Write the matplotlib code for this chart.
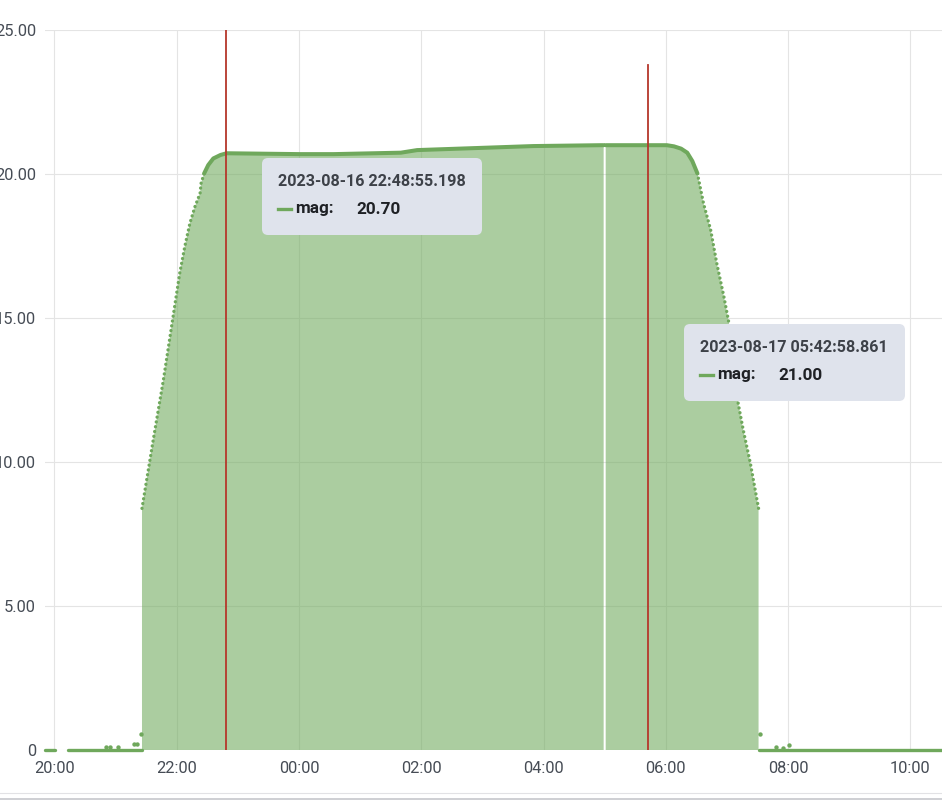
import matplotlib
matplotlib.use("Agg")
import matplotlib.pyplot as plt
import matplotlib.dates as mdates
from matplotlib.patches import FancyBboxPatch, Rectangle
from matplotlib.lines import Line2D
from matplotlib.transforms import IdentityTransform
from matplotlib.ticker import FuncFormatter
import numpy as np
import pandas as pd

plt.rcParams['font.family'] = ['Roboto', 'DejaVu Sans']

D1 = "2023-08-16 "
D2 = "2023-08-17 "

# --- data -----------------------------------------------------------------
# baseline runs at 0 before and after the night
zero_start = [D1 + "19:51", D1 + "20:13", D2 + "07:31"]
zero_end = [D1 + "20:01", D1 + "21:26", D2 + "10:35"]

# isolated small samples near the baseline
blip_t = [D1 + "20:51", D1 + "20:55", D1 + "21:02", D1 + "21:18", D1 + "21:21",
          D1 + "21:25", D2 + "07:32", D2 + "07:48", D2 + "07:55", D2 + "08:01"]
blip_mag = [0.12, 0.12, 0.12, 0.20, 0.20, 0.55, 0.55, 0.09, 0.08, 0.17]

# evening ramp (sparse samples, drawn as dots)
rise_t = [D1 + t for t in ["21:26", "21:37", "21:47", "21:55", "22:03", "22:08",
                           "22:13", "22:18", "22:23", "22:24", "22:27"]]
rise_mag = [8.39, 10.76, 12.85, 14.70, 16.55, 17.48, 18.29, 18.87, 19.33, 19.68, 20.02]

# night plateau (dense samples, one missing sample around 05:00)
top_t = [D1 + t for t in ["22:27", "22:31", "22:36", "22:43", "22:49"]] + \
        [D2 + t for t in ["00:01", "00:34", "01:40", "01:56", "02:45", "03:50",
                          "04:56", "04:59", "05:00", "05:01", "06:01", "06:08",
                          "06:15", "06:21", "06:26", "06:31"]]
top_mag = [20.02, 20.31, 20.54, 20.66, 20.72,
           20.69, 20.69, 20.74, 20.83, 20.89, 20.97,
           21.00, 21.00, np.nan, 21.00, 21.00, 20.96,
           20.88, 20.74, 20.45, 20.02]

# morning ramp
fall_t = [D2 + t for t in ["06:31", "06:37", "06:44", "06:50", "06:57", "07:02",
                           "07:11", "07:16", "07:23", "07:31"]]
fall_mag = [20.02, 18.98, 18.06, 16.90, 15.74, 14.81, 12.04, 11.11, 9.95, 8.39]

# annotations (tooltips)
ann_t = ["2023-08-16 22:48:55.198", "2023-08-17 05:42:58.861"]
ann_mag = [20.70, 21.00]

xmin, xmax = D1 + "19:50:50", D2 + "10:31"

# --- figure ---------------------------------------------------------------
W, H = 942, 800
fig = plt.figure(figsize=(W / 100, H / 100), dpi=100)
ax = fig.add_axes([45 / W, 50 / H, (W - 45) / W, 720 / H])

green = '#6fa85c'
to_dt = pd.to_datetime

# filled area under the night curve
fill_t = to_dt(rise_t + top_t + fall_t)
fill_v = np.array(rise_mag + top_mag + fall_mag, dtype=float)
ax.fill_between(fill_t, fill_v, 0, color='#6faa5c', alpha=0.58, lw=0, zorder=2)

dots = dict(color=green, lw=2.4, ls=(0, (0.01, 1.45)), dash_capstyle='round',
            clip_on=False, zorder=3)
ax.plot(to_dt(rise_t), rise_mag, **dots)
ax.plot(to_dt(fall_t), fall_mag, **dots)
ax.plot(to_dt(top_t), top_mag, color=green, lw=2.9, solid_capstyle='round',
        solid_joinstyle='round', zorder=3)

for s, e in zip(zero_start, zero_end):
    ax.plot(to_dt([s, e]), [0, 0], color=green, lw=2.4, solid_capstyle='round',
            clip_on=False, zorder=3)
ax.scatter(to_dt(blip_t), blip_mag, s=10, color=green, lw=0, zorder=3, clip_on=False)

# annotation markers
ax.axvline(to_dt(ann_t[0]), ymin=0, ymax=1, color='#b5372b', lw=1.3, zorder=4)
ax.axvline(to_dt(ann_t[1]), ymin=0, ymax=23.8 / 25, color='#b5372b', lw=1.3, zorder=4)

ax.set_xlim(to_dt(xmin), to_dt(xmax))
ax.set_ylim(0, 25)
ax.set_yticks([0, 5, 10, 15, 20, 25])
ax.yaxis.set_major_formatter(FuncFormatter(lambda v, p: '0' if v == 0 else f'{v:.2f}'))
ax.xaxis.set_major_locator(mdates.HourLocator(byhour=range(0, 24, 2)))
ax.xaxis.set_major_formatter(mdates.DateFormatter('%H:%M'))

for sp in ax.spines.values():
    sp.set_visible(False)
ax.set_axisbelow(True)
ax.grid(True, color='#e4e4e4', lw=0.8)
ax.tick_params(length=0, labelsize=11.8, labelcolor='#464c55')
ax.tick_params(axis='x', pad=8)
ax.tick_params(axis='y', pad=6.5)

# --- tooltips (pixel coordinates) -----------------------------------------
ident = IdentityTransform()


def tooltip(x0, y0, w, h, stamp, val):
    box = FancyBboxPatch((x0, H - y0 - h), w, h, boxstyle="round,pad=0,rounding_size=6",
                         fc='#dfe3ec', ec='none', transform=ident, zorder=10)
    fig.add_artist(box)
    fig.text((x0 + 16) / W, 1 - (y0 + 23) / H, stamp, fontsize=11.6, weight='semibold',
             color='#3d4148', va='center', ha='left', zorder=11)
    yl = H - (y0 + 51)
    fig.add_artist(Line2D([x0 + 16, x0 + 29], [yl, yl], color=green, lw=2.4,
                          transform=ident, zorder=11))
    fig.text((x0 + 33) / W, 1 - (y0 + 51) / H, 'mag:', fontsize=12.3, weight='bold',
             color='#1f2125', va='center', ha='left', zorder=11)
    fig.text((x0 + 94) / W, 1 - (y0 + 51) / H, f'{val:.2f}', fontsize=12.3, weight='bold',
             color='#1f2125', va='center', ha='left', zorder=11)


tooltip(262, 158, 220, 77, ann_t[0], ann_mag[0])
tooltip(684, 324, 221, 77, ann_t[1], ann_mag[1])

# bottom border of the panel
fig.add_artist(Line2D([0, W], [7.5, 7.5], color='#e2e2e5', lw=0.8, transform=ident))
fig.add_artist(Rectangle((0, 0), W, 2.5, fc='#cfd0d4', ec='none', transform=ident))

fig.savefig('out.png', dpi=100)
